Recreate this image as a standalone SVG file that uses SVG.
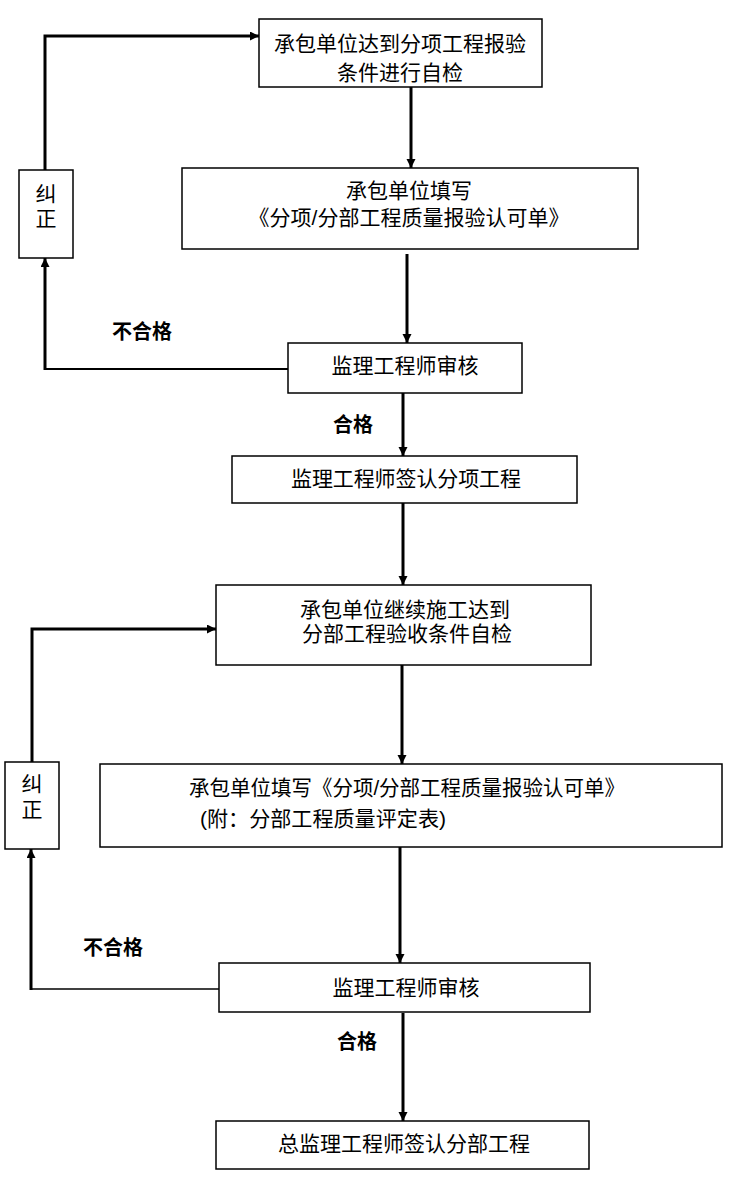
<svg xmlns="http://www.w3.org/2000/svg" width="744" height="1181" viewBox="0 0 744 1181">
<style>
.box{fill:#fff;stroke:#000;stroke-width:1.5}
.t{font-family:"Liberation Sans","Noto Sans CJK SC",sans-serif;font-size:21px;fill:#000;text-anchor:middle}
.b{font-family:"Liberation Sans","Noto Sans CJK SC",sans-serif;font-size:20px;font-weight:bold;fill:#000;text-anchor:middle}
.c{fill:none;stroke:#000;stroke-width:3}
.cn{fill:none;stroke:#000;stroke-width:2}
.ct{fill:none;stroke:#000;stroke-width:1.3}
</style>
<defs>
<marker id="ah" markerUnits="userSpaceOnUse" markerWidth="10" markerHeight="10" refX="9" refY="4.5" orient="auto">
<path d="M0,0 L9,4.5 L0,9 z" fill="#000"/>
</marker>
</defs>
<rect width="744" height="1181" fill="#fff"/>
<g id="connectors">
<line class="c" x1="411" y1="87" x2="411" y2="168" marker-end="url(#ah)"/>
<line class="c" x1="407" y1="254" x2="407" y2="343" marker-end="url(#ah)"/>
<line class="c" x1="403" y1="393" x2="403" y2="456" marker-end="url(#ah)"/>
<line class="c" x1="403" y1="503" x2="403" y2="585" marker-end="url(#ah)"/>
<line class="c" x1="402" y1="665" x2="402" y2="764" marker-end="url(#ah)"/>
<line class="c" x1="400" y1="847" x2="400" y2="963" marker-end="url(#ah)"/>
<line class="c" x1="403" y1="1013" x2="403" y2="1121" marker-end="url(#ah)"/>
<line class="cn" x1="288" y1="369" x2="45" y2="369"/>
<polyline class="c" points="45,370 45,258" marker-end="url(#ah)"/>
<polyline class="c" points="45,170 45,36 259,36" marker-end="url(#ah)"/>
<line class="ct" x1="219" y1="989" x2="31" y2="989"/>
<polyline class="c" points="31,990 31,849" marker-end="url(#ah)"/>
<polyline class="c" points="32,762 32,629 216,629" marker-end="url(#ah)"/>
</g>
<g id="n1">
<rect class="box" x="259" y="19" width="283" height="68"/>
<text class="t" x="400" y="51">承包单位达到分项工程报验</text>
<text class="t" x="400" y="80">条件进行自检</text>
</g>
<g id="n2">
<rect class="box" x="182" y="168" width="456" height="81"/>
<text class="t" x="409" y="198">承包单位填写</text>
<text class="t" x="409" y="225">《分项/分部工程质量报验认可单》</text>
</g>
<g id="n3">
<rect class="box" x="288" y="343" width="234" height="50"/>
<text class="t" x="405" y="373">监理工程师审核</text>
</g>
<g id="n4">
<rect class="box" x="232" y="456" width="345" height="47"/>
<text class="t" x="406" y="486" textLength="230" lengthAdjust="spacing">监理工程师签认分项工程</text>
</g>
<g id="n5">
<rect class="box" x="216" y="585" width="375" height="80"/>
<text class="t" x="405" y="617">承包单位继续施工达到</text>
<text class="t" x="407" y="641">分部工程验收条件自检</text>
</g>
<g id="n6">
<rect class="box" x="100" y="764" width="622" height="83"/>
<text class="t" x="189" y="795" style="text-anchor:start" textLength="436" lengthAdjust="spacingAndGlyphs">承包单位填写《分项/分部工程质量报验认可单》</text>
<text class="t" x="200" y="826" style="text-anchor:start" textLength="246" lengthAdjust="spacingAndGlyphs">(附：分部工程质量评定表)</text>
</g>
<g id="n7">
<rect class="box" x="219" y="963" width="371" height="49"/>
<text class="t" x="406" y="995">监理工程师审核</text>
</g>
<g id="n8">
<rect class="box" x="216" y="1121" width="373" height="48"/>
<text class="t" x="404" y="1151">总监理工程师签认分部工程</text>
</g>
<g id="fix1">
<rect class="box" x="19" y="170" width="54" height="88"/>
<text class="t" x="46" y="201">纠</text>
<text class="t" x="46" y="226">正</text>
</g>
<g id="fix2">
<rect class="box" x="5" y="762" width="54" height="87"/>
<text class="t" x="32" y="791">纠</text>
<text class="t" x="32" y="817">正</text>
</g>
<g id="labels">
<text class="b" x="142" y="339">不合格</text>
<text class="b" x="353" y="432">合格</text>
<text class="b" x="113" y="955">不合格</text>
<text class="b" x="357" y="1049">合格</text>
</g>
</svg>
